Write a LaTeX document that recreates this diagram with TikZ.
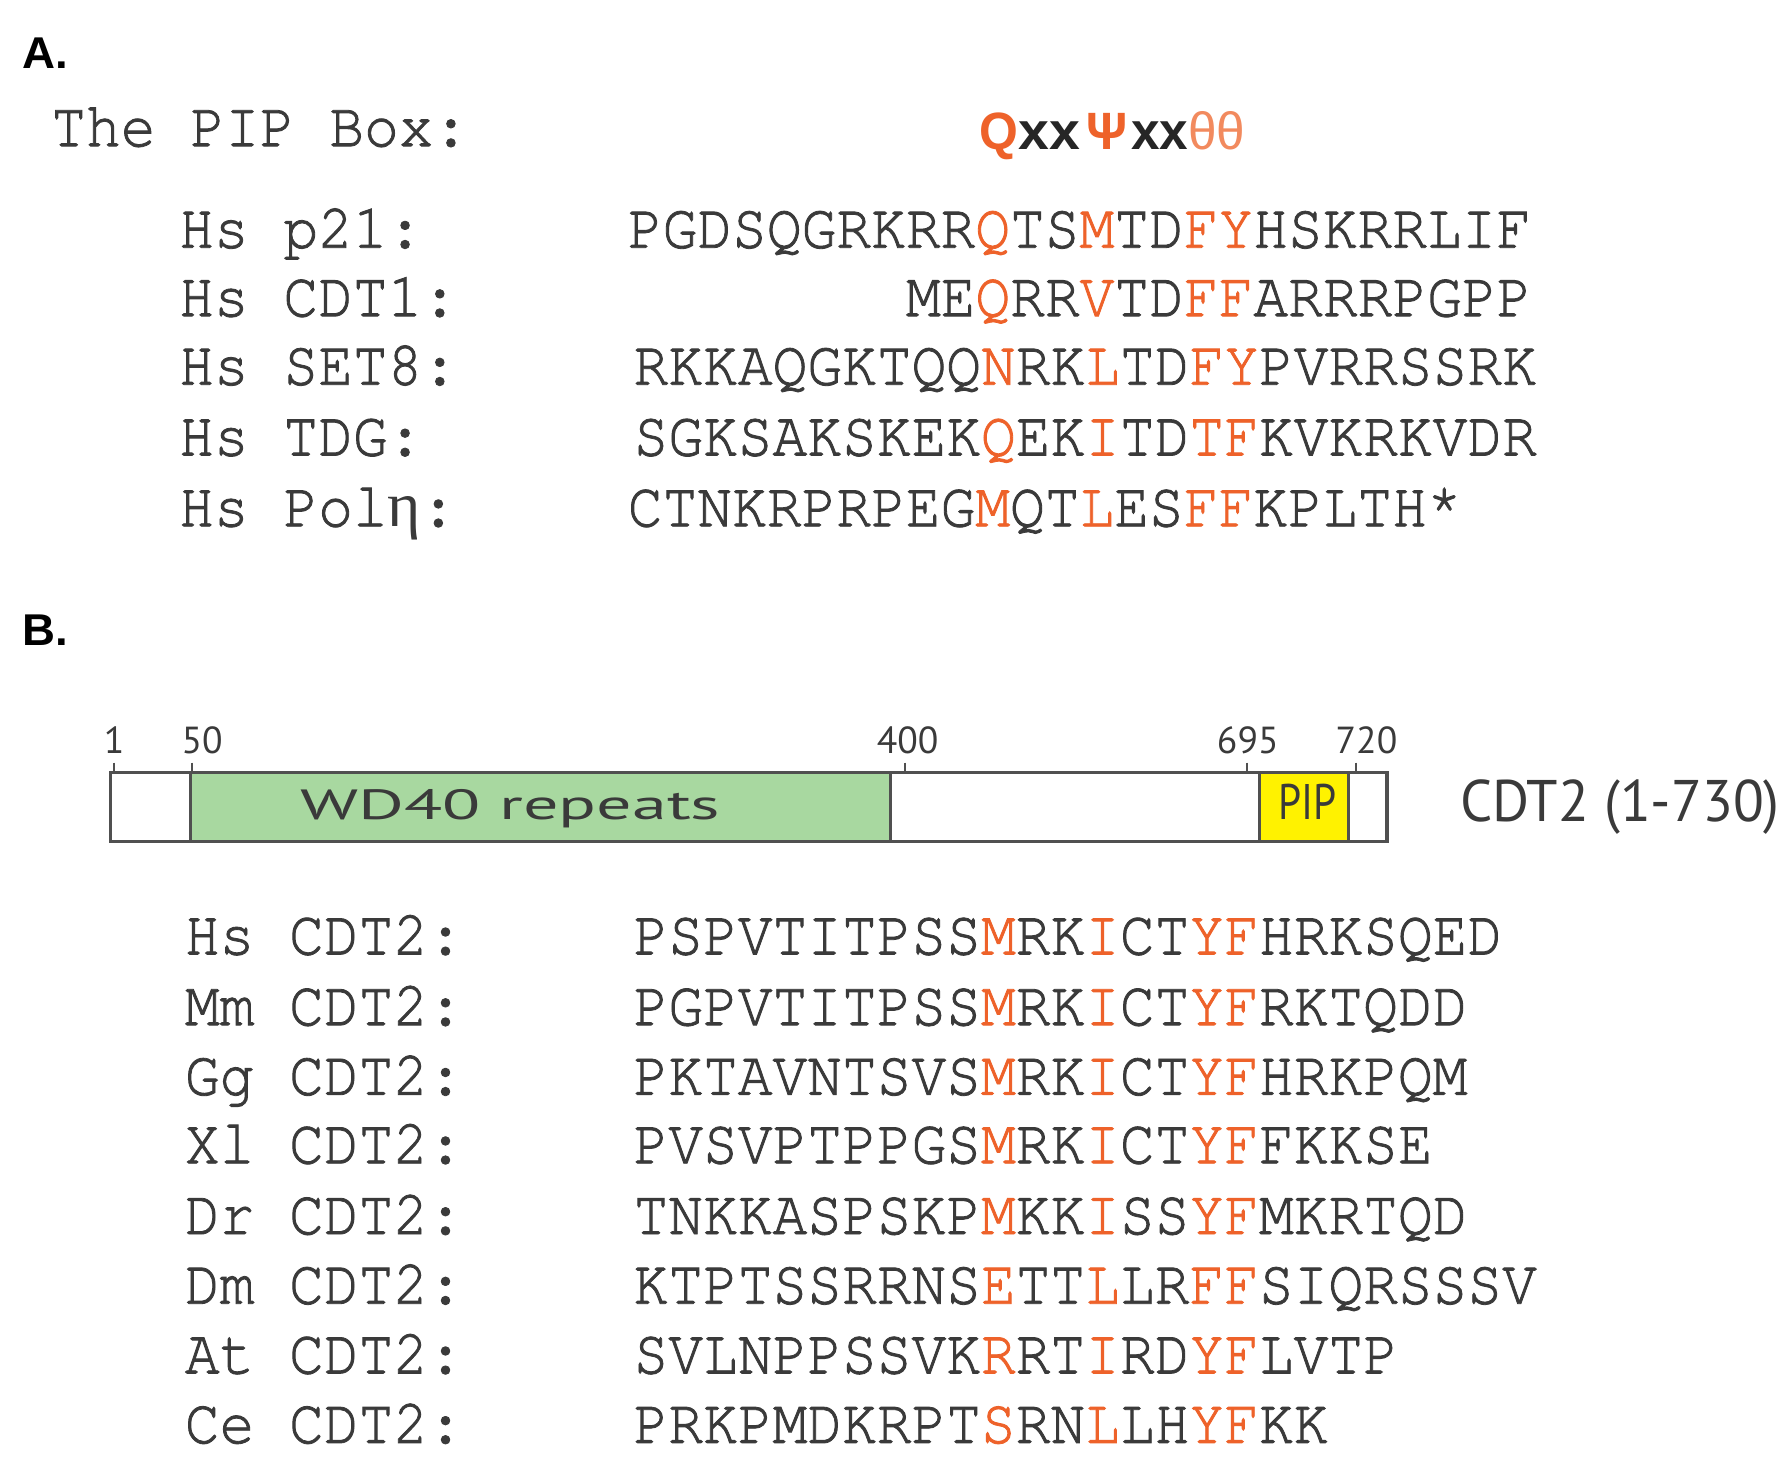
\documentclass[tikz,border=0pt]{standalone}
\usepackage{fontspec}
\setmainfont{Liberation Sans}
\newfontfamily\monof{texgyrecursor}[Extension=.otf, UprightFont=*-regular, BoldFont=*-bold, FakeBold=1.3, FakeStretch=0.909]
\newfontfamily\serf{Liberation Serif}
\newfontfamily\ptf{PT Sans}
\definecolor{txtc}{HTML}{3A3A3A}
\definecolor{org}{HTML}{EE622A}
\definecolor{orgl}{HTML}{F28A5E}
\definecolor{wdgreen}{HTML}{A8D8A0}
\definecolor{pipy}{HTML}{FFF200}
\definecolor{barline}{HTML}{505050}
\newcommand{\hl}[1]{\textcolor{org}{#1}}
\newcommand{\fitw}[2]{\resizebox{#1}{\height}{#2}}
\tikzset{
  tx/.style={inner sep=0pt, outer sep=0pt, anchor=base west, text=txtc},
  seq/.style={tx, font=\monof\fontsize{27.9pt}{30pt}\selectfont},
  panel/.style={tx, text=black, font=\bfseries\fontsize{19.5pt}{22pt}\selectfont},
  motif/.style={tx, font=\bfseries\fontsize{23pt}{26pt}\selectfont},
  num/.style={inner sep=0pt, outer sep=0pt, anchor=base, text=txtc, font=\ptf\fontsize{16.5pt}{18pt}\selectfont},
  domtext/.style={inner sep=0pt, outer sep=0pt, anchor=base, text=txtc},
  bar/.style={draw=barline, line width=1.4pt},
  tick/.style={draw=barline, line width=0.8pt},
}
\begin{document}
\begin{tikzpicture}[x=0.5pt,y=-0.5pt]
\fill[white] (0,0) rectangle (1568,1286);
\useasboundingbox (0,0) rectangle (1568,1286);

% ---------- Panel A ----------
\node[panel] (pA) at (20,60) {\fitw{20pt}{A.}};
\node[seq] (pipbox) at (45,128) {The PIP Box:};
\node[motif, text=org] (mQ) at (858,131) {\fitw{17pt}{Q}};
\node[motif, text=black!85] (mx1) at (892,131) {\fitw{27pt}{xx}};
\node[motif, text=org] (mPsi) at (952,131) {\fitw{18pt}{Ψ}};
\node[motif, text=black!85] (mx2) at (991,131) {\fitw{25pt}{xx}};
\node[motif, text=orgl, font=\fontsize{23pt}{26pt}\selectfont] (mth) at (1041,131) {\fitw{25pt}{θθ}};

\node[seq] (lA1) at (157,217) {Hs p21:};
\node[seq] (lA2) at (157,277) {Hs CDT1:};
\node[seq] (lA3) at (157,337) {Hs SET8:};
\node[seq] (lA4) at (157,399) {Hs TDG:};
\node[seq] (lA5) at (157,461) {Hs Pol{\serf η}:};

\node[seq] (sA1) at (550,217) {PGDSQGRKRR\hl{Q}TS\hl{M}TD\hl{FY}HSKRRLIF};
\node[seq] (sA2) at (793.6,277) {ME\hl{Q}RR\hl{V}TD\hl{FF}ARRRPGPP};
\node[seq] (sA3) at (555,337) {RKKAQGKTQQ\hl{N}RK\hl{L}TD\hl{FY}PVRRSSRK};
\node[seq] (sA4) at (555,399) {SGKSAKSKEK\hl{Q}EK\hl{I}TD\hl{TF}KVKRKVDR};
\node[seq] (sA5) at (550,461) {CTNKRPRPEG\hl{M}QT\hl{L}ES\hl{FF}KPLTH*};

% ---------- Panel B ----------
\node[panel] (pB) at (20,565) {\fitw{20pt}{B.}};

\fill[white] (97,677) rectangle (1215,737);
\draw[bar, fill=wdgreen] (167,677) rectangle (780,737);
\draw[bar, fill=pipy] (1103,677) rectangle (1181,737);
\draw[bar] (97,677) rectangle (1215,737);

\draw[tick] (100,668) -- (100,677);
\draw[tick] (168,668) -- (168,677);
\draw[tick] (793,668) -- (793,677);
\draw[tick] (1092,668) -- (1092,677);
\draw[tick] (1188,668) -- (1188,677);

\node[num] (n1) at (100,660) {1};
\node[num] (n50) at (177,660) {50};
\node[num] (n400) at (795,660) {400};
\node[num] (n695) at (1093,660) {695};
\node[num] (n720) at (1197,660) {720};

\node[domtext, font=\ptf\fontsize{18.5pt}{20pt}\selectfont] (wd) at (447,718) {\fitw{184pt}{WD40 repeats}};
\node[domtext, font=\ptf\fontsize{21.9pt}{24pt}\selectfont] (pip) at (1145,718) {\fitw{25.5pt}{PIP}};
\node[tx, font=\ptf\fontsize{25.7pt}{28pt}\selectfont] (cdt2) at (1279,720) {\fitw{140pt}{CDT2 (1-730)}};

\node[seq] (lB1) at (162,836) {Hs CDT2:};
\node[seq] (lB2) at (162,898) {Mm CDT2:};
\node[seq] (lB3) at (162,959) {Gg CDT2:};
\node[seq] (lB4) at (162,1019) {Xl CDT2:};
\node[seq] (lB5) at (162,1081) {Dr CDT2:};
\node[seq] (lB6) at (162,1142) {Dm CDT2:};
\node[seq] (lB7) at (162,1203) {At CDT2:};
\node[seq] (lB8) at (162,1264) {Ce CDT2:};

\node[seq] (sB1) at (555,836) {PSPVTITPSS\hl{M}RK\hl{I}CT\hl{YF}HRKSQED};
\node[seq] (sB2) at (555,898) {PGPVTITPSS\hl{M}RK\hl{I}CT\hl{YF}RKTQDD};
\node[seq] (sB3) at (555,959) {PKTAVNTSVS\hl{M}RK\hl{I}CT\hl{YF}HRKPQM};
\node[seq] (sB4) at (555,1019) {PVSVPTPPGS\hl{M}RK\hl{I}CT\hl{YF}FKKSE};
\node[seq] (sB5) at (555,1081) {TNKKASPSKP\hl{M}KK\hl{I}SS\hl{YF}MKRTQD};
\node[seq] (sB6) at (555,1142) {KTPTSSRRNS\hl{E}TT\hl{L}LR\hl{FF}SIQRSSSV};
\node[seq] (sB7) at (555,1203) {SVLNPPSSVK\hl{R}RT\hl{I}RD\hl{YF}LVTP};
\node[seq] (sB8) at (555,1264) {PRKPMDKRPT\hl{S}RN\hl{L}LH\hl{YF}KK};
\end{tikzpicture}
\end{document}
